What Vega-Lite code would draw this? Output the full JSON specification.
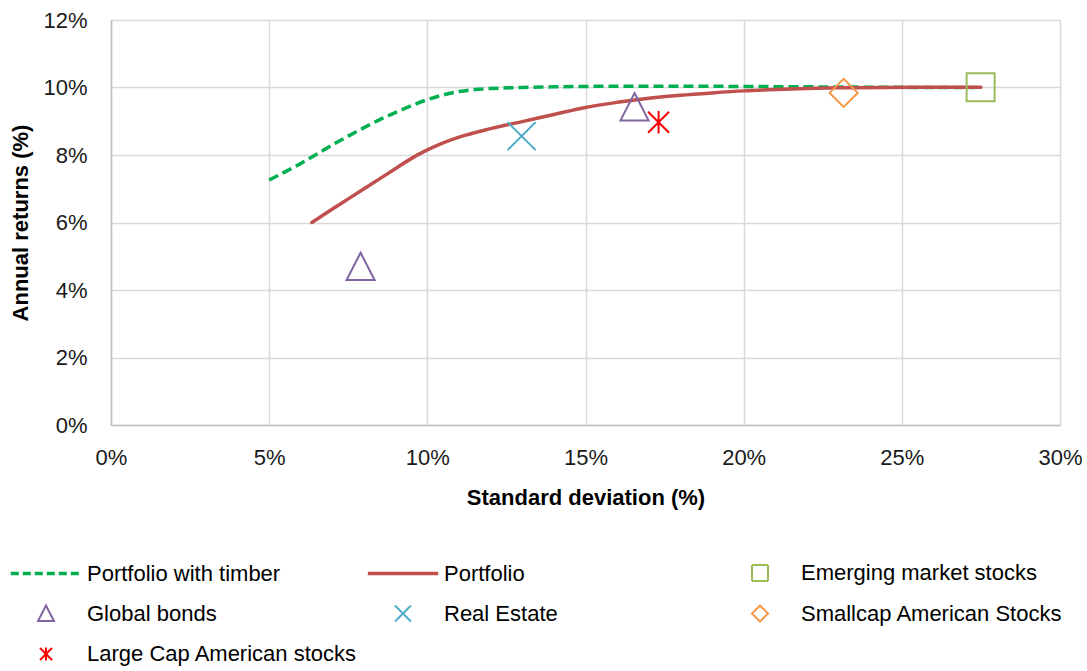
{
  "$schema": "https://vega.github.io/schema/vega-lite/v6.json",
  "width": 949,
  "height": 405,
  "autosize": {"type": "none"},
  "padding": {"left": 111, "top": 20, "right": 27, "bottom": 246},
  "background": "white",
  "config": {
    "font": "Liberation Sans, Arial, sans-serif",
    "view": {"stroke": null},
    "axis": {
      "gridColor": "#D9D9D9",
      "gridWidth": 1.5,
      "domainColor": "#BFBFBF",
      "domainWidth": 1.5,
      "ticks": false,
      "labelFlush": false,
      "labelFontSize": 22,
      "labelColor": "#1a1a1a",
      "titleFontSize": 22,
      "titleFontWeight": "bold",
      "titleColor": "#000000"
    }
  },
  "datasets": {
    "curves": [
      {"series": "Portfolio with timber", "sd": 5.0, "ret": 7.26},
      {"series": "Portfolio with timber", "sd": 5.5, "ret": 7.5},
      {"series": "Portfolio with timber", "sd": 6.0, "ret": 7.75},
      {"series": "Portfolio with timber", "sd": 6.5, "ret": 8.02},
      {"series": "Portfolio with timber", "sd": 7.0, "ret": 8.3},
      {"series": "Portfolio with timber", "sd": 7.5, "ret": 8.56},
      {"series": "Portfolio with timber", "sd": 8.0, "ret": 8.81},
      {"series": "Portfolio with timber", "sd": 8.5, "ret": 9.05},
      {"series": "Portfolio with timber", "sd": 9.0, "ret": 9.26},
      {"series": "Portfolio with timber", "sd": 9.5, "ret": 9.46},
      {"series": "Portfolio with timber", "sd": 10.0, "ret": 9.64},
      {"series": "Portfolio with timber", "sd": 10.5, "ret": 9.78},
      {"series": "Portfolio with timber", "sd": 11.0, "ret": 9.88},
      {"series": "Portfolio with timber", "sd": 11.5, "ret": 9.94},
      {"series": "Portfolio with timber", "sd": 12.0, "ret": 9.97},
      {"series": "Portfolio with timber", "sd": 13.0, "ret": 10.0},
      {"series": "Portfolio with timber", "sd": 14.0, "ret": 10.02},
      {"series": "Portfolio with timber", "sd": 15.0, "ret": 10.03},
      {"series": "Portfolio with timber", "sd": 16.0, "ret": 10.04},
      {"series": "Portfolio with timber", "sd": 17.0, "ret": 10.04},
      {"series": "Portfolio with timber", "sd": 18.0, "ret": 10.04},
      {"series": "Portfolio with timber", "sd": 20.0, "ret": 10.03},
      {"series": "Portfolio with timber", "sd": 22.0, "ret": 10.02},
      {"series": "Portfolio with timber", "sd": 24.0, "ret": 10.01},
      {"series": "Portfolio with timber", "sd": 26.0, "ret": 10.0},
      {"series": "Portfolio with timber", "sd": 27.3, "ret": 10.0},
      {"series": "Portfolio", "sd": 6.35, "ret": 6.0},
      {"series": "Portfolio", "sd": 7.0, "ret": 6.4},
      {"series": "Portfolio", "sd": 7.5, "ret": 6.7},
      {"series": "Portfolio", "sd": 8.0, "ret": 7.0},
      {"series": "Portfolio", "sd": 8.5, "ret": 7.3},
      {"series": "Portfolio", "sd": 9.0, "ret": 7.6},
      {"series": "Portfolio", "sd": 9.5, "ret": 7.9},
      {"series": "Portfolio", "sd": 10.0, "ret": 8.15},
      {"series": "Portfolio", "sd": 10.5, "ret": 8.36},
      {"series": "Portfolio", "sd": 11.0, "ret": 8.53},
      {"series": "Portfolio", "sd": 12.0, "ret": 8.78},
      {"series": "Portfolio", "sd": 13.0, "ret": 8.99},
      {"series": "Portfolio", "sd": 14.0, "ret": 9.2},
      {"series": "Portfolio", "sd": 15.0, "ret": 9.41},
      {"series": "Portfolio", "sd": 16.0, "ret": 9.56},
      {"series": "Portfolio", "sd": 17.0, "ret": 9.68},
      {"series": "Portfolio", "sd": 18.0, "ret": 9.77},
      {"series": "Portfolio", "sd": 19.0, "ret": 9.84},
      {"series": "Portfolio", "sd": 20.0, "ret": 9.9},
      {"series": "Portfolio", "sd": 21.0, "ret": 9.94},
      {"series": "Portfolio", "sd": 22.0, "ret": 9.97},
      {"series": "Portfolio", "sd": 23.0, "ret": 9.99},
      {"series": "Portfolio", "sd": 24.5, "ret": 10.0},
      {"series": "Portfolio", "sd": 26.0, "ret": 10.01},
      {"series": "Portfolio", "sd": 27.5, "ret": 10.01}
    ],
    "assets": [
      {"series": "Global bonds", "sd": 7.89, "ret": 4.69},
      {"series": "Global bonds", "sd": 16.55, "ret": 9.42},
      {"series": "Real Estate", "sd": 12.98, "ret": 8.56},
      {"series": "Large Cap American stocks", "sd": 17.31, "ret": 8.97},
      {"series": "Smallcap American Stocks", "sd": 23.16, "ret": 9.84},
      {"series": "Emerging market stocks", "sd": 27.49, "ret": 10.01}
    ]
  },
  "encoding": {
    "x": {
      "field": "sd",
      "type": "quantitative",
      "scale": {"domain": [0, 30], "nice": false},
      "axis": {
        "values": [0, 5, 10, 15, 20, 25, 30],
        "labelExpr": "datum.value + '%'",
        "labelPadding": 22,
        "title": "Standard deviation (%)",
        "titlePadding": 19
      }
    },
    "y": {
      "field": "ret",
      "type": "quantitative",
      "scale": {"domain": [0, 12], "nice": false},
      "axis": {
        "values": [0, 2, 4, 6, 8, 10, 12],
        "labelExpr": "datum.value + '%'",
        "labelPadding": 24,
        "title": "Annual returns (%)",
        "titlePadding": 10
      }
    },
    "color": {
      "field": "series",
      "type": "nominal",
      "scale": {
        "domain": ["Portfolio with timber", "Portfolio", "Emerging market stocks", "Global bonds", "Real Estate", "Smallcap American Stocks", "Large Cap American stocks"],
        "range": ["#00B050", "#C0504D", "#9BBB59", "#8064A2", "#4BACC6", "#F79646", "#FF0000"]
      },
      "legend": {
        "title": null,
        "orient": "none",
        "legendX": -76,
        "legendY": 542,
        "direction": "horizontal",
        "columns": 3,
        "gridAlign": "all",
        "columnPadding": 2,
        "rowPadding": 16.5,
        "padding": 0,
        "symbolSize": 256,
        "symbolStrokeWidth": 2,
        "labelFontSize": 22,
        "labelOffset": 30,
        "labelLimit": 400,
        "labelColor": "#000000",
        "encode": {
          "symbols": {
            "update": {
              "strokeDash": {"signal": "datum.value === 'Portfolio with timber' ? [8, 4] : [1, 0]"},
              "strokeWidth": {"signal": "datum.value === 'Portfolio with timber' || datum.value === 'Portfolio' ? 3.5 : 2"}
            }
          }
        }
      }
    }
  },
  "layer": [
    {
      "data": {"name": "curves"},
      "transform": [{"filter": "datum.series === 'Portfolio with timber'"}],
      "mark": {"type": "line", "strokeWidth": 3.5, "strokeDash": [10, 5], "interpolate": "monotone"}
    },
    {
      "data": {"name": "curves"},
      "transform": [{"filter": "datum.series === 'Portfolio'"}],
      "mark": {"type": "line", "strokeWidth": 3.5, "strokeCap": "round", "interpolate": "monotone"}
    },
    {
      "data": {"name": "assets"},
      "mark": {"type": "point", "filled": false, "strokeWidth": 2, "size": 784, "opacity": 1},
      "encoding": {
        "shape": {
          "field": "series",
          "type": "nominal",
          "scale": {
            "domain": ["Portfolio with timber", "Portfolio", "Emerging market stocks", "Global bonds", "Real Estate", "Smallcap American Stocks", "Large Cap American stocks"],
            "range": ["M-4.4,0H4.4", "M-4.4,0H4.4", "square", "M0,-1L1,0.95L-1,0.95Z", "M-1,-1L1,1M-1,1L1,-1", "diamond", "M-0.75,-0.75L0.75,0.75M-0.75,0.75L0.75,-0.75M0,-0.8V0.8"]
          }
        }
      }
    }
  ]
}
